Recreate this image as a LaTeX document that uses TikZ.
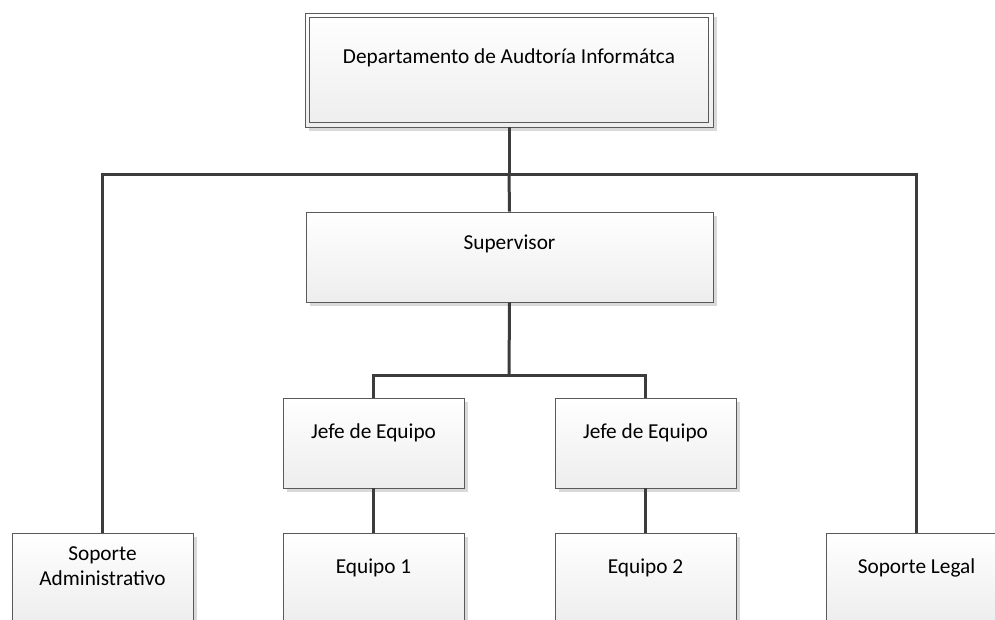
\documentclass[tikz,border=0pt]{standalone}
\usepackage{fontspec}
\setmainfont{Carlito}
\usetikzlibrary{shadows}

\definecolor{edge}{HTML}{5A5A5A}
\definecolor{wire}{HTML}{3C3C3C}
\definecolor{shade}{HTML}{D9D9D9}

\tikzset{
  unitbox/.style={
    draw=edge, line width=0.9pt, inner sep=0pt,
    top color=white, bottom color=black!7,
    minimum width=181pt, minimum height=90pt,
    drop shadow={shadow xshift=4pt, shadow yshift=-4pt, fill=shade, opacity=1}
  },
  lbl/.style={inner sep=0pt, align=center, font=\fontsize{21.3}{25}\selectfont},
  wirestyle/.style={draw=wire, line width=3pt}
}

\begin{document}
\begin{tikzpicture}[x=1pt, y=-1pt]
  \clip (0,0) rectangle (995,619);
  \fill[white] (0,0) rectangle (995,619);

  % boxes
  \node[unitbox, minimum width=408pt, minimum height=114pt] (dep) at (509,70) {};
  \draw[edge, line width=0.9pt] ([shift={(5pt,-5pt)}]dep.north west) rectangle ([shift={(-5pt,5pt)}]dep.south east);
  \node[unitbox, minimum width=407pt] (sup) at (509.5,257) {};
  \node[unitbox] (jefeA) at (373.5,443) {};
  \node[unitbox] (jefeB) at (645.5,443) {};
  \node[unitbox] (eqA) at (373.5,578) {};
  \node[unitbox] (eqB) at (645.5,578) {};
  \node[unitbox] (adm) at (102.5,578) {};
  \node[unitbox] (leg) at (916.5,578) {};

  % labels
  \node[lbl] (tdep) at ([yshift=12pt]dep.center) {Departamento de Audtoría Informátca};
  \node[lbl] (tsup) at ([yshift=13pt]sup.center) {Supervisor};
  \node[lbl] (tjefeA) at ([yshift=10pt]jefeA.center) {Jefe de Equipo};
  \node[lbl] (tjefeB) at ([yshift=10pt]jefeB.center) {Jefe de Equipo};
  \node[lbl] (teqA) at ([yshift=10pt]eqA.center) {Equipo 1};
  \node[lbl] (teqB) at ([yshift=10pt]eqB.center) {Equipo 2};
  \node[lbl] (tadm) at ([yshift=12pt]adm.center) {Soporte\\Administrativo};
  \node[lbl] (tleg) at ([yshift=10pt]leg.center) {Soporte Legal};

  % connectors
  \coordinate (busTop) at (509,174);
  \coordinate (busMid) at (509,375);
  \path[wirestyle] (dep.south) -- (busTop);
  \path[wirestyle] (adm.north) |- (busTop) -| (leg.north);
  \path[wirestyle] (busTop) -- (sup.north);
  \path[wirestyle] (sup.south) -- (busMid);
  \path[wirestyle] (jefeA.north) |- (busMid) -| (jefeB.north);
  \path[wirestyle] (jefeA.south) -- (eqA.north);
  \path[wirestyle] (jefeB.south) -- (eqB.north);
\end{tikzpicture}
\end{document}
